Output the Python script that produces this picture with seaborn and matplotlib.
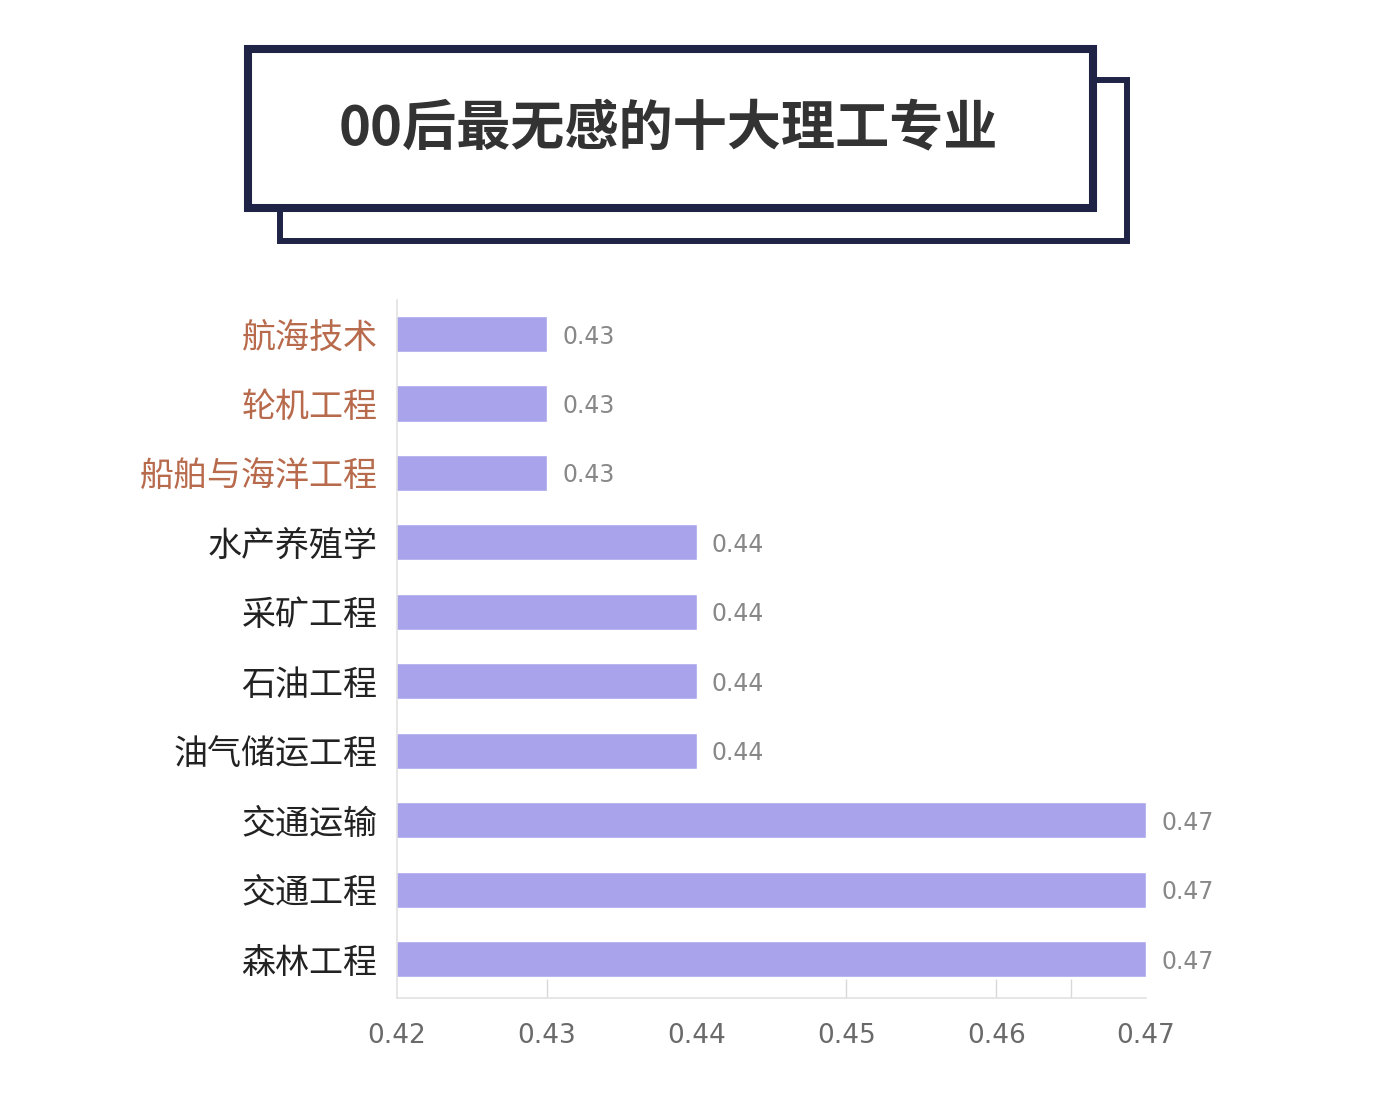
import matplotlib
matplotlib.use("Agg")
import matplotlib.pyplot as plt
import seaborn as sns
import pandas as pd
from matplotlib.patches import Rectangle
from matplotlib.ticker import FixedLocator

sns.set_style("white")
plt.rcParams["font.family"] = ["Noto Sans CJK SC", "DejaVu Sans"]

# data
majors = ["航海技术", "轮机工程", "船舶与海洋工程", "水产养殖学", "采矿工程",
          "石油工程", "油气储运工程", "交通运输", "交通工程", "森林工程"]
scores = [0.43, 0.43, 0.43, 0.44, 0.44, 0.44, 0.44, 0.47, 0.47, 0.47]
score_labels = ["0.43", "0.43", "0.43", "0.44", "0.44", "0.44", "0.44", "0.47", "0.47", "0.47"]
highlight = ["航海技术", "轮机工程", "船舶与海洋工程"]
xticks = [0.42, 0.43, 0.44, 0.45, 0.46, 0.47]

df = pd.DataFrame({"专业": majors, "分数": scores})

W, H = 1376, 1102
fig = plt.figure(figsize=(W / 100, H / 100), dpi=100)
fig.patch.set_facecolor("white")

ax = fig.add_axes([397 / W, 1 - 998 / H, 749 / W, 698 / H])
sns.barplot(data=df, y="专业", x="分数", order=majors, orient="h",
            color="#a9a3ec", saturation=1, width=0.52, ax=ax)

ax.set_xlim(0.42, 0.47)
ax.set_ylim(9.56, -0.49)
ax.set_xticks(xticks)
ax.set_xticklabels([f"{t:.2f}" for t in xticks], fontsize=19, color="#6a6a6a",
                   family=["DejaVu Sans"])
ax.set_xlabel("")
ax.set_ylabel("")
ax.tick_params(axis="x", which="major", length=0, pad=18)
ax.tick_params(axis="y", length=0, pad=14, labelsize=24.5)
for lab in ax.get_yticklabels():
    lab.set_color("#b86a4c" if lab.get_text() in highlight else "#222222")

# faint little ticks on the bottom axis
ax.xaxis.remove_overlapping_locs = False
ax.xaxis.set_minor_locator(FixedLocator([0.43, 0.45, 0.46, 0.465]))
ax.tick_params(axis="x", which="minor", bottom=True, direction="in", length=14,
               color="#d8d8d8", width=1)

for s in ["top", "right"]:
    ax.spines[s].set_visible(False)
for s in ["left", "bottom"]:
    ax.spines[s].set_color("#e2e2e2")
    ax.spines[s].set_linewidth(1.2)

texts = ax.bar_label(ax.containers[0], labels=score_labels, padding=11,
                     fontsize=17, color="#888888", family=["DejaVu Sans"])
for t in texts:
    t.set_va("center_baseline")

# title with the double frame
navy = "#1f2346"
fig.patches.append(Rectangle((280 / W, 1 - 241 / H), 847 / W, 161 / H,
                             transform=fig.transFigure, facecolor="white",
                             edgecolor=navy, linewidth=4.3, zorder=1))
fig.patches.append(Rectangle((248 / W, 1 - 208 / H), 845 / W, 159 / H,
                             transform=fig.transFigure, facecolor="white",
                             edgecolor=navy, linewidth=5.8, zorder=2))
fig.text(668 / W, 1 - 130 / H, "00后最无感的十大理工专业", ha="center", va="center",
         fontsize=39, fontweight="bold", color="#333333", zorder=3)

fig.savefig("out.png", dpi=100)
